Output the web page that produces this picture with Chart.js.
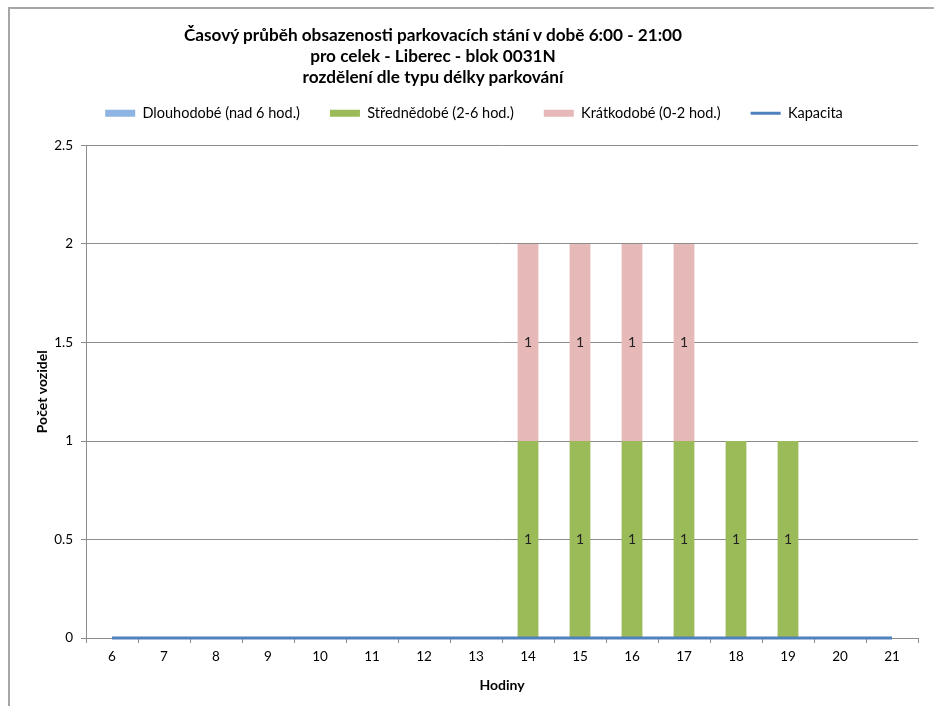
<!DOCTYPE html>
<html>
<head>
<meta charset="utf-8">
<script src="https://cdn.jsdelivr.net/npm/chart.js@4"></script>
<style>
  body { margin: 0; background: #fff; }
  #frame { position: absolute; left: 8px; top: 7px; width: 940px; height: 710px;
           border-top: 2px solid #a6a6a6; border-left: 2px solid #a6a6a6; }
  #title { position: absolute; left: 0; top: 24px; width: 866px; text-align: center;
           font: bold 17.2px Lato, sans-serif; line-height: 21px; color: #000; z-index: 2; }
  #c { position: absolute; left: 0; top: 0; }
</style>
</head>
<body>
<div id="frame"></div>
<div id="title">Časový průběh obsazenosti parkovacích stání v době 6:00 - 21:00<br>pro celek - Liberec - blok 0031N<br>rozdělení dle typu délky parkování</div>
<canvas id="c" width="934" height="706"></canvas>
<script>
const hours = ['6','7','8','9','10','11','12','13','14','15','16','17','18','19','20','21'];
const dlouhodobe = [0,0,0,0,0,0,0,0,0,0,0,0,0,0,0,0];
const strednedobe = [0,0,0,0,0,0,0,0,1,1,1,1,1,1,0,0];
const kratkodobe = [0,0,0,0,0,0,0,0,1,1,1,1,0,0,0,0];
const kapacita = [0,0,0,0,0,0,0,0,0,0,0,0,0,0,0,0];
const yTicks = [0, 0.5, 1, 1.5, 2, 2.5];

const FONT = 'Lato';
const gridColor = '#8c8c8c';

// popisky hodnot uprostred sloupcu
const barLabels = {
  id: 'barLabels',
  afterDatasetsDraw(chart) {
    const ctx = chart.ctx;
    ctx.save();
    ctx.font = '14px ' + FONT;
    ctx.fillStyle = '#222';
    ctx.textAlign = 'center';
    ctx.textBaseline = 'middle';
    chart.data.datasets.forEach((ds, i) => {
      if (ds.type === 'line') return;
      const meta = chart.getDatasetMeta(i);
      meta.data.forEach((el, j) => {
        const v = ds.data[j];
        if (!v) return;
        ctx.fillText(String(v), el.x, (el.y + el.base) / 2);
      });
    });
    ctx.restore();
  }
};

const legendGap = {
  id: 'legendGap',
  beforeInit(chart) {
    const fit = chart.legend.fit;
    chart.legend.fit = function () {
      fit.bind(chart.legend)();
      this.height += 15;
    };
  }
};

const ctx = document.getElementById('c');
const chart = new Chart(ctx, {
  type: 'bar',
  data: {
    labels: hours,
    datasets: [
      { label: 'Dlouhodobé (nad 6 hod.)', data: dlouhodobe, backgroundColor: '#8db4e2', order: 1, pointStyle: 'rect' },
      { label: 'Střednědobé (2-6 hod.)', data: strednedobe, backgroundColor: '#9bbb59', order: 1, pointStyle: 'rect' },
      { label: 'Krátkodobé (0-2 hod.)', data: kratkodobe, backgroundColor: '#e6b9b8', order: 1, pointStyle: 'rect' },
      { type: 'line', label: 'Kapacita', data: kapacita, borderColor: '#4f81bd', backgroundColor: '#4f81bd',
        borderWidth: 3, pointRadius: 0, order: 0, stack: 'cap', clip: false, pointStyle: 'line' }
    ]
  },
  options: {
    responsive: false,
    animation: false,
    barPercentage: 0.4,
    categoryPercentage: 1,
    layout: { padding: { top: 76, left: 30, right: 16, bottom: 8 } },
    plugins: {
      legend: {
        position: 'top',
        labels: {
          usePointStyle: true,
          pointStyleWidth: 30,
          boxWidth: 30,
          boxHeight: 7,
          padding: 30,
          color: '#000',
          font: { family: FONT, size: 14.5 },
          sort: (a, b) => a.datasetIndex - b.datasetIndex
        }
      },
      tooltip: { enabled: false }
    },
    scales: {
      x: {
        stacked: true,
        offset: true,
        afterFit(s) { s.height = 60; },
        grid: { offset: true, drawOnChartArea: false, color: gridColor, tickLength: 5 },
        border: { color: gridColor },
        ticks: { color: '#000', padding: 6, font: { family: FONT, size: 13.5 } },
        title: { display: true, text: 'Hodiny', color: '#000', font: { family: FONT, size: 14, weight: 'bold' } }
      },
      y: {
        stacked: true,
        min: 0,
        max: 2.5,
        afterFit(s) { s.width = 56; },
        afterBuildTicks(s) { s.ticks = yTicks.map(v => ({ value: v })); },
        grid: { color: gridColor, tickLength: 5 },
        border: { color: gridColor },
        ticks: { color: '#000', padding: 8, font: { family: FONT, size: 13.5 }, callback: v => String(v) },
        title: { display: true, text: 'Počet vozidel', color: '#000', font: { family: FONT, size: 14, weight: 'bold' } }
      }
    }
  },
  plugins: [barLabels, legendGap]
});
</script>
</body>
</html>
